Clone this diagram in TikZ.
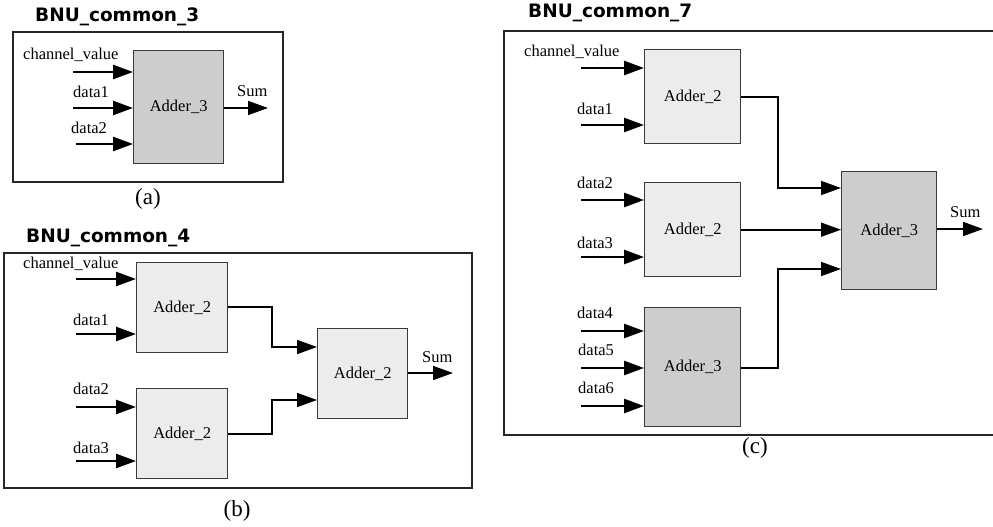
\documentclass[tikz,border=0pt]{standalone}
\usepackage{fontspec}
\setmainfont{Liberation Serif}
\newfontfamily\titlefont{DejaVu Sans}
\usetikzlibrary{arrows.meta}
\definecolor{lightbox}{HTML}{ECECEC}
\definecolor{darkbox}{HTML}{CDCDCD}
\definecolor{edge}{HTML}{3A3A3A}
\begin{document}
\begin{tikzpicture}[x=1pt,y=-1pt,
  adderlight/.style={draw=edge,line width=1.4pt,fill=lightbox,minimum width=91pt,anchor=north west,inner sep=0pt,font=\fontsize{16.5}{18}\selectfont},
  adderdark/.style={draw=edge,line width=1.4pt,fill=darkbox,minimum width=91pt,anchor=north west,inner sep=0pt,font=\fontsize{16.5}{18}\selectfont},
  frame/.style={draw=black!85,line width=1.4pt},
  title/.style={anchor=west,font=\titlefont\bfseries\fontsize{18.5}{20}\selectfont,inner sep=0pt},
  sig/.style={anchor=west,font=\fontsize{16.5}{18}\selectfont,inner sep=0pt},
  captext/.style={font=\fontsize{23}{25}\selectfont,inner sep=0pt},
  inarrow/.style={line width=2.6pt,-{Triangle[length=20pt,width=14pt]}},
  link/.style={line width=1.6pt,-{Triangle[length=20pt,width=14pt]}}
]
\useasboundingbox (0,0) rectangle (993,527);

% ---------------- (a) ----------------
\node[title] (ta) at (35,17) {BNU\_common\_3};
\draw[frame] (13,32) rectangle (283,182);
\node[adderdark,minimum width=90pt,minimum height=113pt] (a3) at (133,50) {Adder\_3};
\coordinate (ai1) at (73,72);
\coordinate (ai2) at (73,108);
\coordinate (ai3) at (76,144);
\coordinate (aout) at (268,108);
\draw[inarrow] (ai1) -- (ai1 -| a3.west);
\draw[inarrow] (ai2) -- (ai2 -| a3.west);
\draw[inarrow] (ai3) -- (ai3 -| a3.west);
\draw[link] (a3.east |- aout) -- (aout);
\node[sig] (la1) at (23,55) {channel\_value};
\node[sig] (la2) at (73,92) {data1};
\node[sig] (la3) at (71,128) {data2};
\node[sig] (lasum) at (237,91) {Sum};
\node[captext] (capa) at (148,199) {(a)};

% ---------------- (b) ----------------
\node[title] (tb) at (26,238) {BNU\_common\_4};
\draw[frame] (4,253) rectangle (472,488);
\node[adderlight,minimum height=90pt] (b1) at (136,262) {Adder\_2};
\node[adderlight,minimum height=90pt] (b2) at (136,388) {Adder\_2};
\node[adderlight,minimum width=90pt,minimum height=90pt] (b3) at (317,328) {Adder\_2};
\coordinate (bi1) at (76,279);
\coordinate (bi2) at (76,334);
\coordinate (bi3) at (76,407);
\coordinate (bi4) at (76,461);
\draw[inarrow] (bi1) -- (bi1 -| b1.west);
\draw[inarrow] (bi2) -- (bi2 -| b1.west);
\draw[inarrow] (bi3) -- (bi3 -| b2.west);
\draw[inarrow] (bi4) -- (bi4 -| b2.west);
\coordinate (bj1) at (272,307);
\coordinate (bj2) at (272,347);
\coordinate (bj3) at (272,434);
\coordinate (bj4) at (272,400);
\draw[link] (b1.east |- bj1) -- (bj1) -- (bj2) -- (bj2 -| b3.west);
\draw[link] (b2.east |- bj3) -- (bj3) -- (bj4) -- (bj4 -| b3.west);
\coordinate (bout) at (453,373);
\draw[link] (b3.east |- bout) -- (bout);
\node[sig] (lb1) at (23,264) {channel\_value};
\node[sig] (lb2) at (73,320) {data1};
\node[sig] (lb3) at (73,389) {data2};
\node[sig] (lb4) at (73,448) {data3};
\node[sig] (lbsum) at (422,357) {Sum};
\node[captext] (capb) at (237,511) {(b)};

% ---------------- (c) ----------------
\node[title] (tc) at (528,13) {BNU\_common\_7};
\draw[frame] (1000,31) -- (504,31) -- (504,435) -- (1000,435);
\node[adderlight,minimum width=96pt,minimum height=94pt] (c1) at (644,49) {Adder\_2};
\node[adderlight,minimum width=96pt,minimum height=94pt] (c2) at (644,182) {Adder\_2};
\node[adderdark,minimum width=96pt,minimum height=119pt] (c3) at (644,307) {Adder\_3};
\node[adderdark,minimum width=95pt,minimum height=118pt] (c4) at (841,171) {Adder\_3};
\coordinate (ci1) at (581,68);
\coordinate (ci2) at (581,125);
\coordinate (ci3) at (581,200);
\coordinate (ci4) at (581,257);
\coordinate (ci5) at (581,331);
\coordinate (ci6) at (581,368);
\coordinate (ci7) at (581,406);
\draw[inarrow] (ci1) -- (ci1 -| c1.west);
\draw[inarrow] (ci2) -- (ci2 -| c1.west);
\draw[inarrow] (ci3) -- (ci3 -| c2.west);
\draw[inarrow] (ci4) -- (ci4 -| c2.west);
\draw[inarrow] (ci5) -- (ci5 -| c3.west);
\draw[inarrow] (ci6) -- (ci6 -| c3.west);
\draw[inarrow] (ci7) -- (ci7 -| c3.west);
\coordinate (cj1) at (778,97);
\coordinate (cj2) at (778,188);
\coordinate (cj3) at (778,368);
\coordinate (cj4) at (778,269);
\draw[link] (c1.east |- cj1) -- (cj1) -- (cj2) -- (cj2 -| c4.west);
\draw[link] (c2.east) -- (c2.east -| c4.west);
\draw[link] (c3.east |- cj3) -- (cj3) -- (cj4) -- (cj4 -| c4.west);
\coordinate (cout) at (983,229);
\draw[link] (c4.east |- cout) -- (cout);
\node[sig] (lc1) at (524,52) {channel\_value};
\node[sig] (lc2) at (577,109) {data1};
\node[sig] (lc3) at (577,183) {data2};
\node[sig] (lc4) at (577,243) {data3};
\node[sig] (lc5) at (577,313) {data4};
\node[sig] (lc6) at (578,350) {data5};
\node[sig] (lc7) at (578,388) {data6};
\node[sig] (lcsum) at (950,212) {Sum};
\node[captext] (capc) at (755,448) {(c)};
\end{tikzpicture}
\end{document}
